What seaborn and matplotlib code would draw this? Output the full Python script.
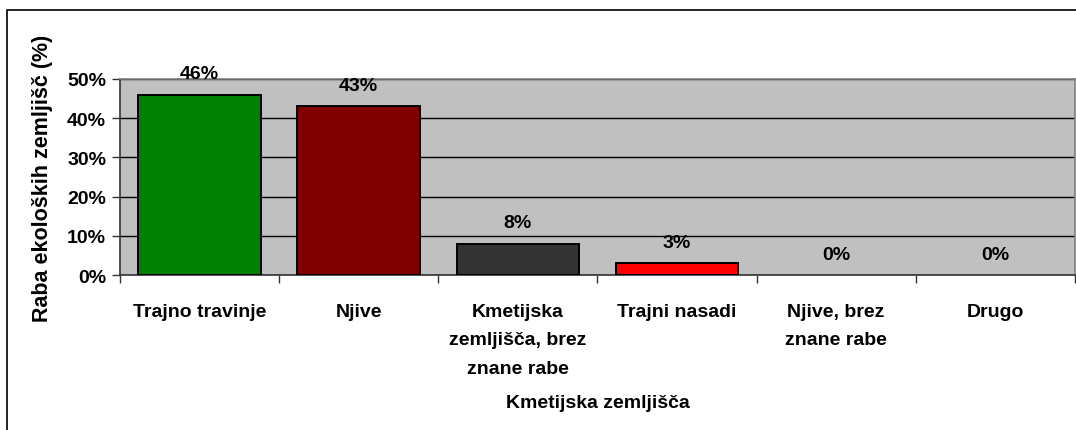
import matplotlib
matplotlib.use("Agg")
import matplotlib.pyplot as plt
from matplotlib.patches import Rectangle
from matplotlib.ticker import MultipleLocator, FuncFormatter
import seaborn as sns
import pandas as pd

categories = ["Trajno travinje", "Njive", "Kmetijska\nzemljišča, brez\nznane rabe",
              "Trajni nasadi", "Njive, brez\nznane rabe", "Drugo"]
shares = [46, 43, 8, 3, 0, 0]
bar_colors = ["#008000", "#800000", "#333333", "#FF0000", "#C0C0C0", "#C0C0C0"]

df = pd.DataFrame({"kategorija": categories, "delez": shares})

sns.set_style("white")
plt.rcParams["font.family"] = ["Liberation Sans", "DejaVu Sans"]
plt.rcParams["font.weight"] = "bold"
plt.rcParams["axes.labelweight"] = "bold"
plt.rcParams["text.color"] = "black"
plt.rcParams["axes.labelcolor"] = "black"
plt.rcParams["xtick.color"] = "black"
plt.rcParams["ytick.color"] = "black"

fs = 14

fig = plt.figure(figsize=(10.76, 4.31), dpi=100)
ax = fig.add_axes([0.1115, 0.3596, 0.8875, 0.4548])
ax.set_facecolor("#C0C0C0")

sns.barplot(data=df, x="kategorija", y="delez", hue="kategorija", palette=bar_colors,
            legend=False, width=0.77, saturation=1, edgecolor="black", linewidth=1.4,
            ax=ax, zorder=3)

for i, cont in enumerate(ax.containers):
    if shares[i] == 0:
        for p in cont.patches:
            p.set_edgecolor("none")
    ax.bar_label(cont, labels=[f"{shares[i]}%"], padding=9, fontsize=fs,
                 fontweight="bold", color="black", zorder=4)

ax.set_ylim(0, 50)
ax.set_xlim(-0.5, 5.5)
ax.yaxis.set_major_locator(MultipleLocator(10))
ax.yaxis.set_major_formatter(FuncFormatter(lambda v, p: f"{v:.0f}%"))
ax.grid(axis="y", color="black", linewidth=1.0, zorder=1)
ax.set_axisbelow(True)

ax.set_xticks(range(len(categories)))
ax.set_xticklabels(categories, fontsize=fs, fontweight="bold", linespacing=1.9, va="top")
ax.set_xticks([i - 0.5 for i in range(len(categories) + 1)], minor=True)
ax.tick_params(axis="x", which="major", length=0, pad=20)
ax.tick_params(axis="x", which="minor", length=6, width=1, color="#333333", bottom=True)
ax.tick_params(axis="y", length=6, width=1, color="#333333", left=True, labelsize=fs, pad=4)
for lbl in ax.get_yticklabels():
    lbl.set_fontweight("bold")

for side in ["top", "right"]:
    ax.spines[side].set_color("#808080")
    ax.spines[side].set_linewidth(1.2)
for side in ["left", "bottom"]:
    ax.spines[side].set_color("#333333")
    ax.spines[side].set_linewidth(1.2)

ax.set_ylabel("Raba ekoloških zemljišč (%)", fontsize=15.5, fontweight="bold", labelpad=10)
ax.set_xlabel("Kmetijska zemljišča", fontsize=fs, fontweight="bold", labelpad=12)

fig.patches.append(Rectangle((7 / 1076, -0.05), 1.2, 0.05 + 1 - 11 / 431,
                             transform=fig.transFigure, fill=False,
                             edgecolor="black", linewidth=1.2, clip_on=False))

fig.savefig("out.png", dpi=100)
